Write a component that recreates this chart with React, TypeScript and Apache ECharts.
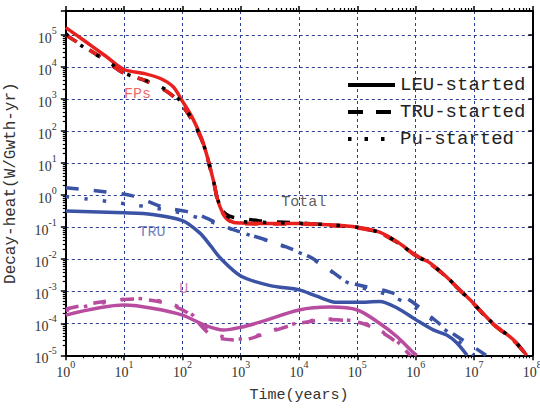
import React, { useEffect, useRef } from 'react';
import * as echarts from 'echarts';

const xMin = 1;
const xMax = 1e8;
const yMin = 1e-5;
const yMax = Math.pow(10, 5.75);

const legendNames = ['LEU-started', 'TRU-started', 'Pu-started'];

// FPs component
const fpLeu = [[1,1.7e5],[2,7e4],[5,2.1e4],[10,8.4e3],[22,6.3e3],[42,4.4e3],[70,2.4e3],[95,1e3],[150,250],[230,40],[350,2.3],[420,0.55],[550,0.21],[760,0.14],[1e3,0.135],[3e3,0.13],[1e4,0.13],[3e4,0.12],[1e5,0.1],[2.4e5,0.07],[4.8e5,0.035],[1e6,0.0135],[1.8e6,7.4e-3],[3.4e6,2.8e-3],[6.6e6,8.6e-4],[1e7,4.1e-4],[2.1e7,1e-4],[4.8e7,3e-5],[8e7,1e-5]];
const fpTru = [[1,1e5],[3.7,2.2e4],[10,6.3e3],[22,3.9e3],[55,1.7e3],[95,7e2],[150,200],[230,38],[350,2.2],[420,0.5],[550,0.2],[760,0.135],[1e3,0.13],[3e3,0.125],[1e4,0.125],[3e4,0.115],[1e5,0.095],[2.4e5,0.066],[4.8e5,0.033],[1e6,0.013],[1.8e6,7e-3],[3.4e6,2.7e-3],[6.6e6,8.2e-4],[1e7,3.9e-4],[2.1e7,9.5e-5],[4.8e7,2.8e-5],[8e7,1e-5]];
// Total
const totTru = [[1,1e5],[3.7,2.2e4],[10,6.3e3],[22,3.9e3],[55,1.7e3],[95,7e2],[150,200],[230,38],[350,2.2],[420,0.5],[550,0.26],[760,0.2],[1e3,0.19],[2e3,0.16],[3e3,0.15],[1e4,0.135],[3e4,0.118],[1e5,0.097],[2.4e5,0.067],[4.8e5,0.034],[1e6,0.013],[1.8e6,7.1e-3],[3.4e6,2.75e-3],[6.6e6,8.3e-4],[1e7,3.9e-4],[2.1e7,9.6e-5],[4.8e7,2.9e-5],[8e7,1e-5]];
const totPu = [[1,1.1e5],[1.8,4.8e4],[5.9,1.3e4],[10,6.5e3],[22,4e3],[37,2.7e3],[67,1.5e3],[95,8e2],[150,210],[230,38],[350,2.3],[420,0.6],[550,0.25],[760,0.17],[1e3,0.15],[3e3,0.14],[1e4,0.132],[3e4,0.12],[1e5,0.1],[2.4e5,0.068],[4.8e5,0.034],[1e6,0.013],[1.8e6,7.2e-3],[3.4e6,2.8e-3],[6.6e6,8.4e-4],[1e7,4e-4],[2.1e7,1e-4],[4.8e7,3e-5],[8e7,1e-5]];
// TRU component
const truLeu = [[1,0.32],[10,0.28],[30,0.25],[100,0.16],[200,0.065],[300,0.027],[450,0.0107],[1e3,3e-3],[3.2e3,1.5e-3],[1e4,1.1e-3],[2e4,7e-4],[4.5e4,4.5e-4],[1e5,4.5e-4],[2.4e5,4.8e-4],[4.8e5,3e-4],[1e6,1.3e-4],[2e6,6.2e-5],[3.4e6,4.3e-5],[5e6,2.5e-5],[7.6e6,1e-5]];
const truTru = [[1,1.7],[4.2,1.3],[14,0.95],[48,0.42],[150,0.28],[420,0.13],[670,0.09],[1.5e3,0.056],[4.2e3,0.031],[1.5e4,0.012],[3.4e4,4.6e-3],[6e4,2.2e-3],[1e5,1.6e-3],[3.2e5,1e-3],[7e5,6e-4],[1.2e6,3e-4],[2.5e6,1e-4],[5e6,4e-5],[1e7,1.8e-5],[1.6e7,1e-5]];
const truPu = [[1,0.9],[2.35,0.76],[5.4,0.63],[12,0.52],[28,0.42],[100,0.27],[300,0.15],[670,0.088],[1.5e3,0.055],[4.2e3,0.03],[1.5e4,0.0115],[3.4e4,4.4e-3],[6e4,2.1e-3],[1e5,1.4e-3],[3.2e5,8e-4],[1e6,3e-4],[2e6,1.2e-4],[4e6,4.5e-5],[7e6,1.8e-5],[1e7,1e-5]];
// U component
const uLeu = [[1,1.8e-4],[10,3.7e-4],[32,2.9e-4],[100,1.8e-4],[235,8.9e-5],[500,6.2e-5],[1e3,7.5e-5],[2.2e3,1.1e-4],[1e4,2.6e-4],[3.4e4,3.2e-4],[1e5,2.6e-4],[2.4e5,1e-4],[4.8e5,3.8e-5],[9.4e5,1.15e-5],[1.05e6,1e-5]];
const uTru = [[1,2.8e-4],[4,4.6e-4],[15,5.7e-4],[50,4.3e-4],[130,2e-4],[330,4e-5],[1e3,3e-5],[3.3e3,5.5e-5],[1e4,1e-4],[3.5e4,1.3e-4],[1.2e5,1e-4],[3e5,4.5e-5],[5.5e5,2e-5],[8e5,1e-5]];
const uPu = [[1,2.5e-4],[4,4.2e-4],[15,6e-4],[50,4.6e-4],[130,2.2e-4],[330,5e-5],[1e3,3.2e-5],[3.3e3,5.8e-5],[1e4,1.05e-4],[3.5e4,1.35e-4],[1.2e5,1.05e-4],[3e5,4.8e-5],[5.5e5,2.2e-5],[8.5e5,1e-5]];

// annotations
const labelTexts = ['FPs', 'TRU', 'U', 'Total'];
const labelPos = [[17, 1350], [30, 0.07], [105, 1.1e-3], [1.2e4, 0.6]];
const labelColors = ['#ee3b3b', '#4a62b0', '#c062b2', '#333333'];

const RED = '#e8211f';
const BLUE = '#3a53a5';
const MAG = '#b84c9e';
const DASH = [13, 15];
const DOT = [3.5, 15];

function minorTicks(loExp: number, hiExp: number) {
  const out: number[] = [];
  for (let e = loExp; e < hiExp; e++) {
    for (let m = 2; m <= 9; m++) out.push(m * Math.pow(10, e));
  }
  return out;
}

const powLabel = (v: number) => {
  const e = Math.log10(v);
  const r = Math.round(e);
  if (Math.abs(e - r) > 1e-6) return '';
  return `{b|10}{s|${r}}`;
};

const rich = {
  b: { fontSize: 14, fontFamily: 'Liberation Serif', color: '#333', lineHeight: 20, verticalAlign: 'bottom' },
  s: { fontSize: 10, fontFamily: 'Liberation Serif', color: '#333', lineHeight: 11, verticalAlign: 'top' },
};

export default function App() {
  const ref = useRef<HTMLDivElement>(null);
  useEffect(() => {
    if (!ref.current) return;
    const chart = echarts.init(ref.current, undefined, { renderer: 'svg' });
    const line = (data: number[][], color: string, type: any, z = 2) => ({
      type: 'line',
      data,
      symbol: 'none',
      smooth: 0.3,
      clip: true,
      z,
      lineStyle: { color, width: 3.5, type },
      itemStyle: { color },
      silent: true,
    });
    const axisCommon = {
      type: 'log',
      logBase: 10,
    };
    const gridLine = { show: true, lineStyle: { color: '#2b3f95', width: 1, type: [3, 3] } };
    const dummy = (name: string, type: any) => ({
      name, type: 'line', data: [[1e-3, 1e-9]], symbol: 'none', showSymbol: false,
      lineStyle: { color: '#000', width: 4, type }, itemStyle: { color: '#000' },
    });
    const option: any = {
      animation: false,
      backgroundColor: '#fff',
      grid: { left: 65.8, right: 7.7, top: 11, bottom: 52.7, containLabel: false, outerBoundsMode: 'none' },
      legend: {
        data: legendNames,
        orient: 'vertical',
        left: 346,
        top: 75,
        padding: 0,
        itemWidth: 47,
        itemHeight: 14,
        itemGap: 7,
        itemTextGap: 20,
        itemStyle: { color: 'rgba(0,0,0,0)', borderColor: 'rgba(0,0,0,0)', borderWidth: 0, opacity: 0 },
        lineStyle: { width: 4, color: '#000' },
        textStyle: { fontFamily: 'Liberation Mono', fontSize: 19, color: '#222', lineHeight: 20 },
      },
      xAxis: [
        {
          ...axisCommon, min: xMin, max: xMax, interval: 1, position: 'bottom',
          axisLine: { show: true, lineStyle: { color: '#000', width: 2 } },
          axisTick: { show: true, inside: false, length: 5, lineStyle: { color: '#000', width: 1.5 } },
          axisLabel: { show: true, formatter: powLabel, rich, margin: 4 },
          splitLine: gridLine,
          name: 'Time(years)', nameLocation: 'middle', nameGap: 33,
          nameTextStyle: { fontFamily: 'Liberation Mono', fontSize: 15, color: '#333' },
        },
        {
          ...axisCommon, min: xMin, max: xMax, interval: 1, position: 'top',
          axisLine: { show: true, lineStyle: { color: '#000', width: 2 } },
          axisTick: { show: true, inside: false, length: 5, lineStyle: { color: '#000', width: 1.5 } },
          axisLabel: { show: false }, splitLine: { show: false },
        },
        {
          ...axisCommon, min: xMin, max: xMax, interval: 1, position: 'bottom',
          axisLine: { show: false },
          axisTick: { show: true, inside: false, length: 3, customValues: minorTicks(0, 8), lineStyle: { color: '#000', width: 1.2 } },
          axisLabel: { show: false }, splitLine: { show: false },
        },
        {
          ...axisCommon, min: xMin, max: xMax, interval: 1, position: 'top',
          axisLine: { show: false },
          axisTick: { show: true, inside: false, length: 3, customValues: minorTicks(0, 8), lineStyle: { color: '#000', width: 1.2 } },
          axisLabel: { show: false }, splitLine: { show: false },
        },
      ],
      yAxis: [
        {
          ...axisCommon, min: yMin, max: yMax, interval: 1, position: 'left',
          axisLine: { show: true, lineStyle: { color: '#000', width: 2 } },
          axisTick: { show: true, inside: false, length: 5, lineStyle: { color: '#000', width: 1.5 } },
          axisLabel: { show: true, formatter: powLabel, rich, margin: 9 },
          splitLine: gridLine,
          name: 'Decay-heat(W/Gwth-yr)', nameLocation: 'middle', nameGap: 47,
          nameTextStyle: { fontFamily: 'Liberation Mono', fontSize: 16, color: '#333' },
        },
        {
          ...axisCommon, min: yMin, max: yMax, interval: 1, position: 'right',
          axisLine: { show: true, lineStyle: { color: '#000', width: 2 } },
          axisTick: { show: true, inside: true, length: 4, lineStyle: { color: '#000', width: 1.5 } },
          axisLabel: { show: false }, splitLine: { show: false },
        },
        {
          ...axisCommon, min: yMin, max: yMax, interval: 1, position: 'left',
          axisLine: { show: false },
          axisTick: { show: true, inside: false, length: 3, customValues: minorTicks(-5, 5), lineStyle: { color: '#000', width: 1.2 } },
          axisLabel: { show: false }, splitLine: { show: false },
        },
      ],
      series: [
        dummy('LEU-started', 'solid'),
        dummy('TRU-started', [15, 13]),
        dummy('Pu-started', [3.5, 13]),
        line(uLeu, MAG, 'solid'),
        line(uTru, MAG, DASH),
        line(uPu, MAG, DOT),
        line(truLeu, BLUE, 'solid'),
        line(truTru, BLUE, DASH),
        line(truPu, BLUE, DOT),
        line(totTru, '#000', DASH),
        line(fpLeu, RED, 'solid'),
        line(fpTru, RED, DASH),
        line(totPu, '#000', DOT),
        {
          type: 'scatter',
          symbol: 'circle',
          symbolSize: 1,
          itemStyle: { color: 'rgba(0,0,0,0)' },
          silent: true,
          z: 5,
          data: labelTexts.map((t, i) => ({
            name: t,
            value: labelPos[i],
            label: { show: true, position: 'inside', formatter: '{b}', color: labelColors[i], fontFamily: 'Liberation Mono', fontSize: 15 },
          })),
        },
      ],
    };
    chart.setOption(option);
    return () => chart.dispose();
  }, []);
  return <div ref={ref} style={{ position: 'fixed', left: 0, top: 0, width: 540, height: 408, background: '#fff' }} />;
}
